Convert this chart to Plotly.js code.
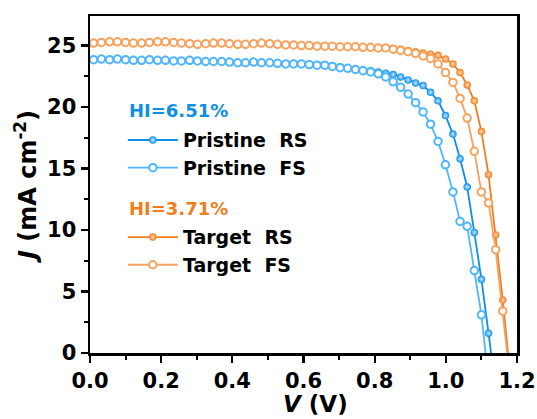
<!DOCTYPE html>
<html>
<head>
<meta charset="utf-8">
<script src="https://cdn.plot.ly/plotly-3.0.1.min.js"></script>
<style>
html,body{margin:0;padding:0;background:#fff;}
#chart{width:537px;height:419px;}
</style>
</head>
<body>
<div id="chart"></div>
<script>
// Voltage (V) sample points
const voltage = [0.010,0.032,0.055,0.077,0.100,0.122,0.145,0.167,0.190,0.212,0.235,0.257,0.280,0.302,0.325,0.347,0.370,0.392,0.415,0.437,0.460,0.482,0.505,0.527,0.550,0.572,0.594,0.616,0.638,0.660,0.681,0.703,0.724,0.746,0.767,0.789,0.810,0.831,0.852,0.873,0.894,0.915,0.936,0.957,0.978,0.999,1.020,1.040,1.060,1.080,1.100,1.120,1.140,1.160,1.180];

// Current density (mA cm-2)
const pristineRS = [23.85,23.9,23.85,23.9,23.85,23.8,23.8,23.85,23.8,23.8,23.75,23.75,23.8,23.75,23.7,23.7,23.7,23.65,23.6,23.6,23.65,23.6,23.6,23.55,23.5,
  23.5,23.5,23.45,23.4,23.4,23.35,23.25,23.2,23.1,23.0,22.95,22.85,22.75,22.65,22.45,22.2,21.95,21.75,21.2,20.5,19.3,17.8,15.8,13.5,9.8,6.0,1.6,-2.8];
const pristineFS = [23.85,23.9,23.85,23.9,23.85,23.8,23.8,23.85,23.8,23.8,23.75,23.75,23.8,23.75,23.7,23.7,23.7,23.65,23.6,23.6,23.65,23.6,23.6,23.55,23.5,
  23.5,23.5,23.45,23.4,23.4,23.3,23.2,23.15,23.05,22.95,22.85,22.7,22.45,22.05,21.6,21.05,20.35,19.6,18.6,17.2,15.3,13.1,10.7,10.3,6.7,3.1,-2.2];
const targetRS = [25.2,25.25,25.3,25.3,25.25,25.2,25.2,25.25,25.3,25.3,25.25,25.2,25.15,25.1,25.15,25.2,25.2,25.15,25.1,25.1,25.15,25.2,25.15,25.1,25.05,
  25.05,25.0,25.0,24.95,24.95,24.95,24.9,24.9,24.9,24.85,24.85,24.8,24.8,24.75,24.7,24.6,24.5,24.4,24.3,24.2,23.9,23.5,22.8,21.8,20.5,18.0,14.5,9.6,4.3,-1.5];
const targetFS = [25.2,25.25,25.3,25.3,25.25,25.2,25.2,25.25,25.3,25.3,25.25,25.2,25.15,25.1,25.15,25.2,25.2,25.15,25.1,25.1,25.15,25.2,25.15,25.1,25.05,
  25.05,25.0,25.0,24.95,24.95,24.95,24.9,24.9,24.9,24.85,24.85,24.8,24.8,24.7,24.6,24.5,24.35,24.15,23.95,23.5,22.8,22.0,20.7,19.1,16.4,13.1,12.2,8.4,3.4,-2.0];

const seriesNames = ['Pristine  RS','Pristine  FS','Target  RS','Target  FS'];
const hiLabels = ['HI=6.51%','HI=3.71%'];
const xTicks = [0.0,0.2,0.4,0.6,0.8,1.0,1.2];
const yTicks = [0,5,10,15,20,25];

const FONT = 'DejaVu Sans, Arial, sans-serif';
const cDarkBlue = '#0d8ee9', cLightBlue = '#4fb6fb';
const cDarkOrange = '#f07e1e', cLightOrange = '#f5a35f';

function filled(y, name, col, light, leg){
  return {x: voltage.slice(0, y.length), y: y, name: name, type:'scatter', mode:'lines+markers',
    legend: leg,
    line:{color: col, width: 1.8},
    marker:{symbol:'circle', size:7.5, color: col, gradient:{type:'radial', color: light}, line:{width:0}}};
}
function open(y, name, col, leg){
  return {x: voltage.slice(0, y.length), y: y, name: name, type:'scatter', mode:'lines+markers',
    legend: leg,
    line:{color: col, width: 1.8},
    marker:{symbol:'circle', size:7.5, color:'#ffffff', line:{color: col, width:2}}};
}

const data = [
  filled(pristineRS, seriesNames[0], cDarkBlue, '#c8e8ff', 'legend'),
  open(pristineFS, seriesNames[1], cLightBlue, 'legend'),
  filled(targetRS, seriesNames[2], cDarkOrange, '#ffd9b8', 'legend2'),
  open(targetFS, seriesNames[3], cLightOrange, 'legend2')
];

const axisCommon = {
  showgrid:false, zeroline:false, showline:true, linecolor:'#000', linewidth:2.5, mirror:true,
  ticks:'outside', ticklen:7, tickwidth:2.2, tickcolor:'#000',
  tickfont:{family:FONT, size:21, color:'#000', weight:'bold'},
};

const legendCommon = {
  xanchor:'left', yanchor:'top', bgcolor:'rgba(0,0,0,0)',
  font:{family:FONT, size:19, color:'#000', weight:'bold'},
  itemwidth:50, tracegroupgap:0
};

const layout = {
  width:537, height:419,
  margin:{l:90, r:20, t:16, b:66},
  paper_bgcolor:'#fff', plot_bgcolor:'#fff',
  font:{family:FONT, color:'#000'},
  showlegend:true,
  xaxis: Object.assign({}, axisCommon, {
    range:[0,1.2], tickvals:xTicks, ticktext:xTicks.map(v=>v.toFixed(1)),
    minor:{dtick:0.1, ticks:'outside', ticklen:4, tickwidth:2, tickcolor:'#000'}
  }),
  yaxis: Object.assign({}, axisCommon, {
    range:[0,27.4], tickvals:yTicks, ticktext:yTicks.map(String),
    minor:{dtick:2.5, ticks:'outside', ticklen:4, tickwidth:2, tickcolor:'#000'},
    title:{text:'<i>J</i> (mA cm<sup>-2</sup>)', font:{family:FONT, size:24, color:'#000', weight:'bold'}, standoff:4}
  }),
  legend: Object.assign({}, legendCommon, {x:0.077, y:0.688}),
  legend2: Object.assign({}, legendCommon, {x:0.077, y:0.400}),
  annotations:[
    {xref:'paper', yref:'paper', x:0.527, y:-0.152, xanchor:'center', yanchor:'middle', showarrow:false,
     text:'<i>V</i> (V)', font:{family:FONT, size:23, color:'#000', weight:'bold'}},
    {xref:'paper', yref:'paper', x:0.087, y:0.721, xanchor:'left', yanchor:'middle', showarrow:false,
     text:hiLabels[0], font:{family:FONT, size:18, color:cDarkBlue, weight:'bold'}},
    {xref:'paper', yref:'paper', x:0.087, y:0.430, xanchor:'left', yanchor:'middle', showarrow:false,
     text:hiLabels[1], font:{family:FONT, size:18, color:cDarkOrange, weight:'bold'}}
  ]
};

Plotly.newPlot('chart', data, layout, {displayModeBar:false, staticPlot:true});
</script>
</body>
</html>
